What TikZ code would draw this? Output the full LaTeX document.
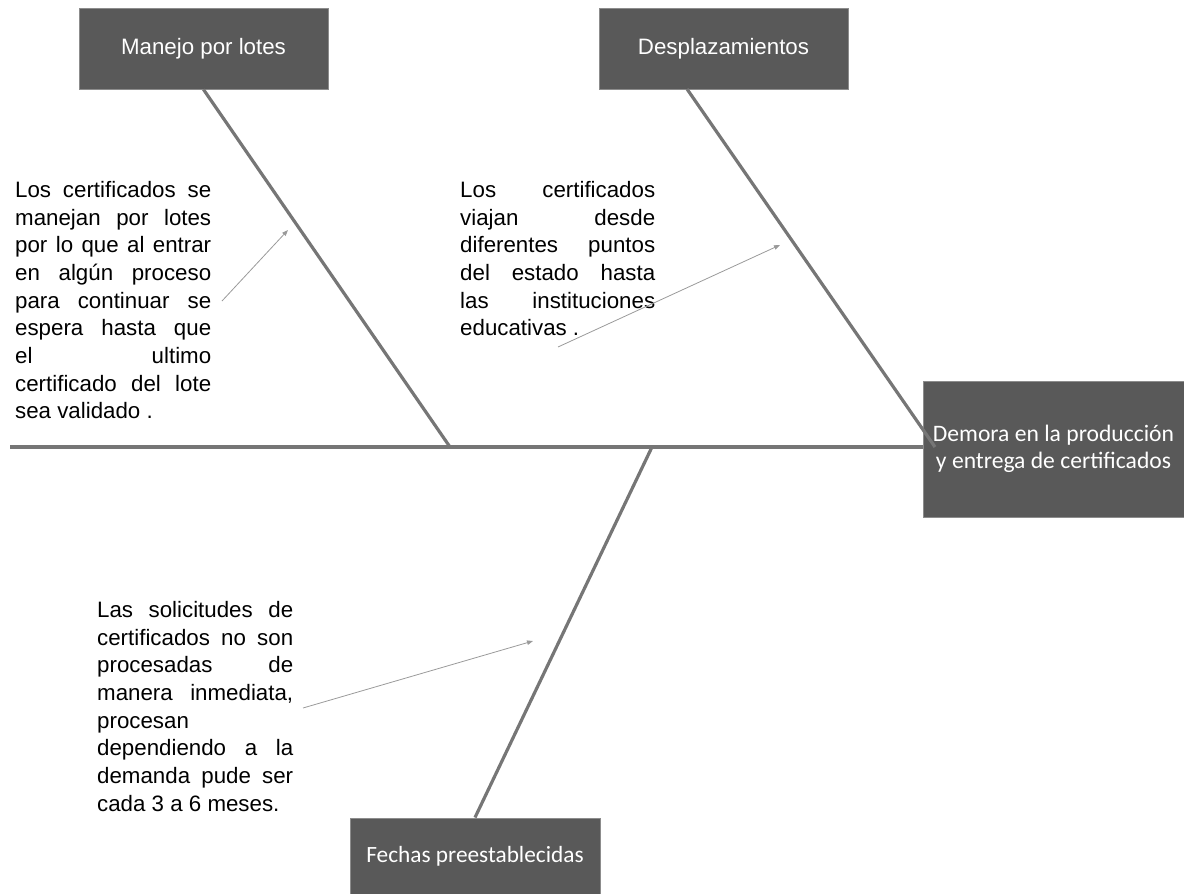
\documentclass[tikz,border=0pt]{standalone}
\usepackage{fontspec}
\setmainfont{Liberation Sans}
\newfontfamily\calibri{Carlito}
\usetikzlibrary{arrows.meta}
\definecolor{boxfill}{HTML}{595959}
\definecolor{boxedge}{HTML}{8C8C8C}
\definecolor{bonegray}{HTML}{767676}
\definecolor{arrowgray}{HTML}{9A9A9A}

\begin{document}
\begin{tikzpicture}[x=1pt,y=-1pt,
  catbox/.style={draw=boxedge, fill=boxfill, line width=1pt, text=white, inner sep=0pt, align=center},
  bone/.style={draw=bonegray, line width=3.2pt},
  pointer/.style={draw=arrowgray, line width=0.8pt, -{Triangle[length=6pt,width=4.5pt]}},
  note/.style={anchor=north west, inner sep=0pt, align=left, font=\fontsize{22.3}{27.7}\selectfont}
]
\useasboundingbox (0,0) rectangle (1184,894);

% category boxes
\node[catbox, minimum width=249pt, minimum height=81pt, font=\fontsize{22.3}{26}\selectfont]
  (manejo) at (203.5,48.5) {Manejo por lotes};
\node[catbox, minimum width=249pt, minimum height=81pt, font=\fontsize{22.3}{26}\selectfont]
  (desplaz) at (723.5,48.5) {Desplazamientos};
\node[catbox, minimum width=250pt, minimum height=77pt, font=\calibri\fontsize{23.3}{27}\selectfont]
  (fechas) at (475,856.5) {Fechas preestablecidas};
% effect box (fish head)
\node[catbox, minimum width=261pt, minimum height=136pt, font=\calibri\fontsize{23.6}{27.5}\selectfont]
  (demora) at (1053.5,449) {Demora en la producción\\y entrega de certificados};

% skeleton
\coordinate (tail) at (10,447);
\coordinate (j1) at (450,447);
\coordinate (b2top) at (687,89);
\coordinate (b2end) at (935,447);
\coordinate (j3) at (652,447);
\draw[bone] (tail) -- (demora.west |- tail);
\draw[bone] (manejo.south) -- (j1);
\draw[bone] (b2top) -- (b2end);
\draw[bone] (j3) -- (fechas.north);

% cause descriptions
\node[note] (t1) at (15,181) {%
\makebox[196pt][s]{Los certificados se}\\
\makebox[196pt][s]{manejan por lotes}\\
\makebox[196pt][s]{por lo que al entrar}\\
\makebox[196pt][s]{en algún proceso}\\
\makebox[196pt][s]{para continuar se}\\
\makebox[196pt][s]{espera hasta que}\\
\makebox[196pt][s]{el ultimo}\\
\makebox[196pt][s]{certificado del lote}\\
\makebox[196pt][l]{sea validado .}};

\node[note] (t2) at (460,181) {%
\makebox[195pt][s]{Los certificados}\\
\makebox[195pt][s]{viajan desde}\\
\makebox[195pt][s]{diferentes puntos}\\
\makebox[195pt][s]{del estado hasta}\\
\makebox[195pt][s]{las instituciones}\\
\makebox[195pt][l]{educativas .}};

\node[note] (t3) at (97,601) {%
\makebox[196pt][s]{Las solicitudes de}\\
\makebox[196pt][s]{certificados no son}\\
\makebox[196pt][s]{procesadas de}\\
\makebox[196pt][s]{manera inmediata,}\\
\makebox[196pt][l]{procesan}\\
\makebox[196pt][s]{dependiendo a la}\\
\makebox[196pt][s]{demanda pude ser}\\
\makebox[196pt][l]{cada 3 a 6 meses.}};

% pointers from descriptions to bones
\coordinate (a1s) at (222,301);
\coordinate (a1e) at (288,230);
\coordinate (a2s) at (558,347);
\coordinate (a2e) at (780,245);
\coordinate (a3s) at (303,708);
\coordinate (a3e) at (533,641);
\draw[pointer] (a1s) -- (a1e);
\draw[pointer] (a2s) -- (a2e);
\draw[pointer] (a3s) -- (a3e);
\end{tikzpicture}
\end{document}
